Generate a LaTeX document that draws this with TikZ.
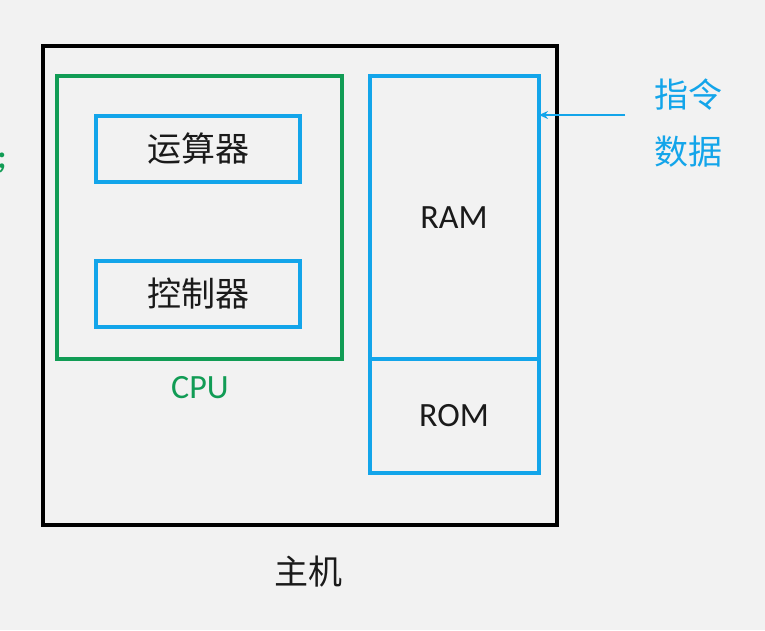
\documentclass[tikz,border=0pt]{standalone}
\usepackage{fontspec}
\setmainfont{Carlito}
\newfontfamily\cjk{Noto Sans CJK SC}
\usetikzlibrary{arrows.meta}
\definecolor{bg}{HTML}{F2F2F2}
\definecolor{sblue}{HTML}{13A5EA}
\definecolor{sgreen}{HTML}{119C55}
\definecolor{ink}{HTML}{1A1A1A}
\tikzset{
  box/.style={draw, rectangle, inner sep=0pt, outer sep=0pt, anchor=north west},
  bluebox/.style={box, draw=sblue, line width=4pt},
  lbl/.style={inner sep=0pt, font=\fontsize{34}{38}\selectfont},
  cjklbl/.style={inner sep=0pt, font=\cjk\fontsize{34}{40}\selectfont},
}
\begin{document}
\begin{tikzpicture}[x=1pt,y=-1pt]
\fill[bg] (0,0) rectangle (765,630);
\useasboundingbox (0,0) rectangle (765,630);
% host
\node[box, draw=black, line width=4pt, minimum width=514pt, minimum height=479pt] (host) at (43,46) {};
% CPU
\node[box, draw=sgreen, line width=3.8pt, minimum width=285pt, minimum height=283pt] (cpu) at (57,76) {};
\node[bluebox, minimum width=204pt, minimum height=66pt] (alu) at (96,116) {};
\node[bluebox, minimum width=204pt, minimum height=66pt] (cu) at (96,261) {};
\node[cjklbl, text=ink] at (alu.center) {运算器};
\node[cjklbl, text=ink] at (cu.center) {控制器};
\node[lbl, text=sgreen] (cpulbl) at (200,388) {CPU};
% memory
\node[bluebox, minimum width=169pt, minimum height=283pt] (ram) at (370,76) {};
\node[bluebox, minimum width=169pt, minimum height=114pt] (rom) at (370,359) {};
\node[lbl, text=ink] at (454,218) {RAM};
\node[lbl, text=ink] at (454,416) {ROM};
% labels
\node[cjklbl, text=ink] (hostlbl) at (308,572) {主机};
\node[cjklbl, text=sblue] (instr) at (688,95) {指令};
\node[cjklbl, text=sblue] (data) at (688,152) {数据};
\coordinate (src) at (625,115);
\draw[sblue, line width=1.5pt, -{Stealth[length=9pt,width=8pt]}] (src) -- (src -| ram.east);
\node[lbl, text=sgreen, font=\bfseries\fontsize{33}{38}\selectfont] (semi) at (2,163) {;};
\end{tikzpicture}
\end{document}
